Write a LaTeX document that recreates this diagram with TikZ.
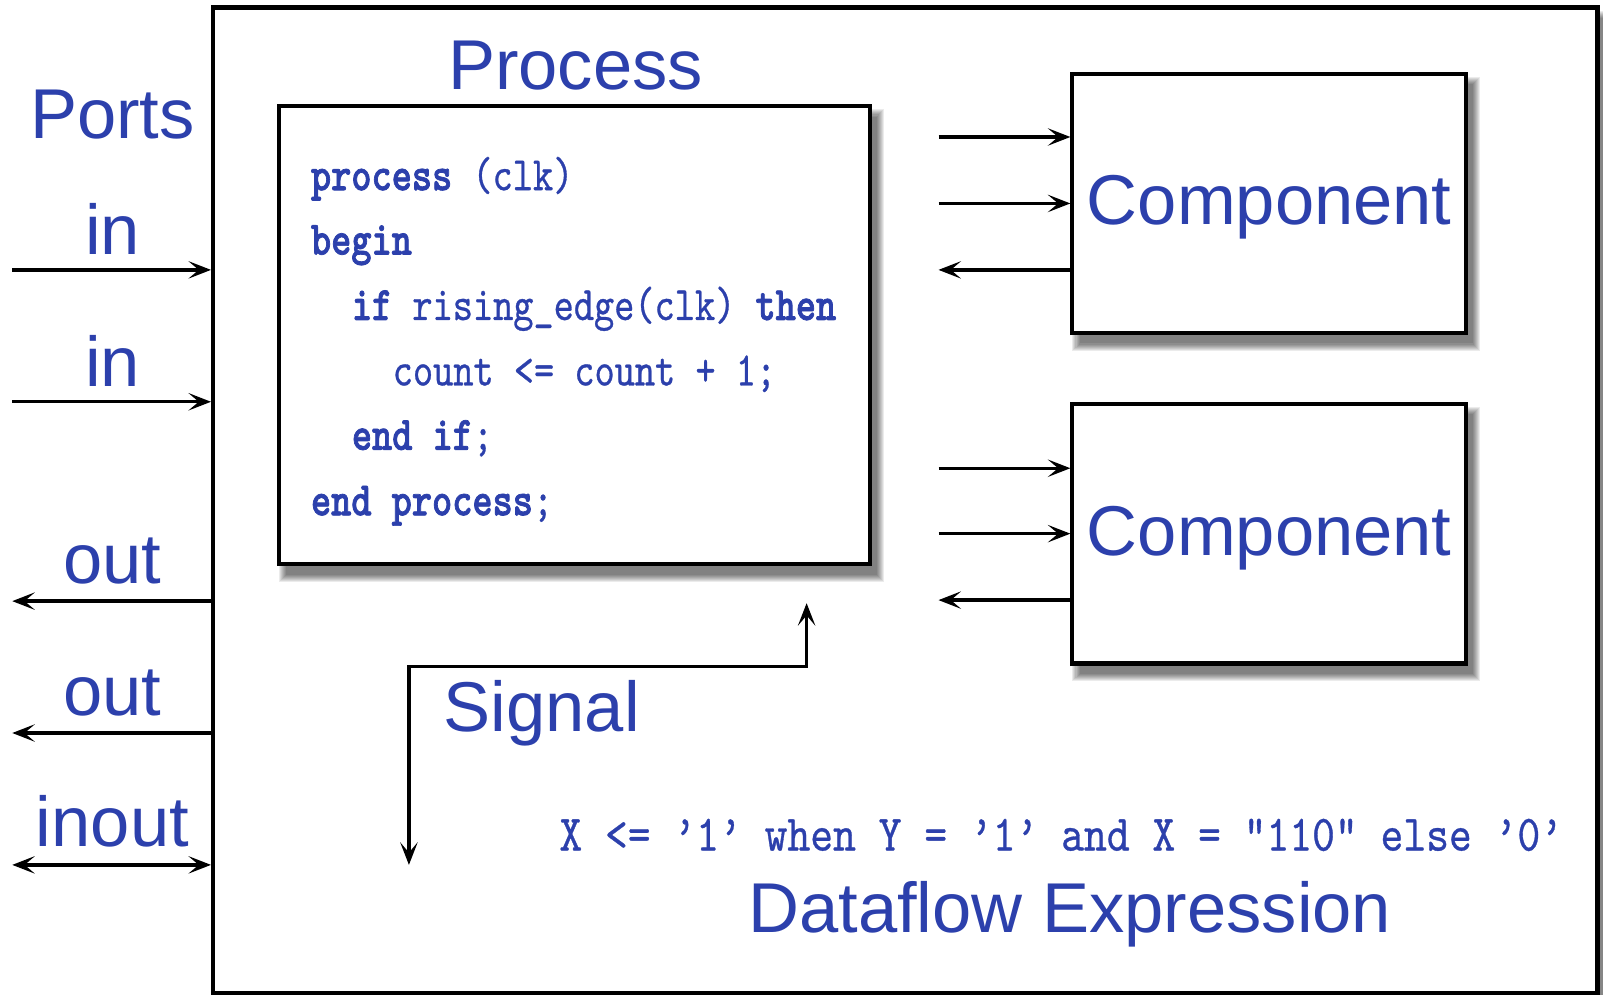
\documentclass[tikz,border=0pt]{standalone}
\usepackage{fontspec}
\usetikzlibrary{arrows.meta}
\newfontfamily\labfnt{Liberation Sans}
\newfontfamily\codefnt{lmmono10-regular.otf}[BoldFont=lmmonolt10-bold.otf, FakeStretch=0.8, UprightFeatures={FakeBold=0.6}, BoldFeatures={FakeBold=1.5}]
\newfontfamily\flowfnt{lmmono10-regular.otf}[FakeStretch=0.85, FakeBold=0.6]
\definecolor{vb}{RGB}{44,64,172}
\newcommand\softshadow[4]{%
  \foreach \s in {0,...,7}{\fill[black,opacity=0.08] ({#1+7-\s},{#2+10-\s}) rectangle ({#3+7+\s},{#4+10+\s});}}
\begin{document}
\begin{tikzpicture}[x=1pt,y=-1pt,
  box/.style={draw=black, line width=4pt, fill=white, inner sep=0pt, outer sep=0pt},
  lbl/.style={text=vb, font=\labfnt\fontsize{69}{80}\selectfont, anchor=base, inner sep=0pt},
  codeline/.style={text=vb, font=\codefnt\fontsize{47}{56}\selectfont, anchor=base west, inner sep=0pt},
  tip/.tip={Stealth[length=22pt,width=17pt,inset=10pt]},
  sig/.style={line width=3.2pt, -tip},
  dsig/.style={line width=3.2pt, tip-tip}]
\useasboundingbox (0,0) rectangle (1568,973);
\clip (0,0) rectangle (1568,973);

% outer entity box
\softshadow{208.4}{7.3}{1562.6}{971.3}
\node[box, minimum width=1354.2pt, minimum height=964pt] (outer) at (885.5,489.3) {};

% process box
\softshadow{273}{104}{851}{552}
\node[box, minimum width=578pt, minimum height=448pt] (proc) at (562,328) {};

% component boxes
\softshadow{1049}{72}{1434}{326}
\node[box, minimum width=385pt, minimum height=254pt] (comp1) at (1241.5,199) {};
\softshadow{1049}{395}{1434}{649}
\node[box, minimum width=385pt, minimum height=254pt] (comp2) at (1241.5,522) {};

% labels
\node[lbl] (tproc) at (563,88) {Process};
\node[lbl] (tports) at (110,135) {Ports};
\node[lbl] (tin1) at (110,249) {in};
\node[lbl] (tin2) at (110,378) {in};
\node[lbl] (tout1) at (110,571) {out};
\node[lbl] (tout2) at (110,700) {out};
\node[lbl] (tinout) at (110,828) {inout};
\node[lbl] (tcomp1) at (1241.5,220) {Component};
\node[lbl] (tcomp2) at (1241.5,543) {Component};
\node[lbl] (tsig) at (530,716) {Signal};
\node[lbl] (tflow) at (1046.5,912) {Dataflow Expression};

% process code
\node[codeline] (c1) at (304,186) {{\bfseries process} (clk)};
\node[codeline] (c2) at (304,249) {{\bfseries begin}};
\node[codeline] (c3) at (344,313) {{\bfseries if} rising\_edge(clk) {\bfseries then}};
\node[codeline] (c4) at (384,377) {count <= count + 1;};
\node[codeline] (c5) at (344,440) {{\bfseries end if};};
\node[codeline] (c6) at (304,504) {{\bfseries end process};};

% dataflow expression
\node[text=vb, font=\flowfnt\fontsize{50}{60}\selectfont, anchor=base west, inner sep=0pt] (flow) at (547,832) {X <= ’1’ when Y = ’1’ and X = "110" else ’0’};

% ports
\coordinate (pin1) at (12,264);
\coordinate (pin2) at (12,393);
\coordinate (pout1) at (12,588);
\coordinate (pout2) at (12,717);
\coordinate (pio) at (12,846);
\draw[sig] (pin1) -- ([xshift=-2pt]pin1 -| outer.west);
\draw[sig] (pin2) -- ([xshift=-2pt]pin2 -| outer.west);
\draw[sig] (pout1 -| outer.west) -- (pout1);
\draw[sig] (pout2 -| outer.west) -- (pout2);
\draw[dsig] (pio) -- ([xshift=-2pt]pio -| outer.west);

% component ports
\coordinate (a1) at (918,134);
\coordinate (a2) at (918,199);
\coordinate (a3) at (918,264);
\coordinate (b1) at (918,458);
\coordinate (b2) at (918,522);
\coordinate (b3) at (918,587);
\draw[sig] (a1) -- ([xshift=-2pt]a1 -| comp1.west);
\draw[sig] (a2) -- ([xshift=-2pt]a2 -| comp1.west);
\draw[sig] (a3 -| comp1.west) -- (a3);
\draw[sig] (b1) -- ([xshift=-2pt]b1 -| comp2.west);
\draw[sig] (b2) -- ([xshift=-2pt]b2 -| comp2.west);
\draw[sig] (b3 -| comp2.west) -- (b3);

% signal
\coordinate (s1) at (400,846);
\coordinate (s2) at (789,590);
\coordinate (sy) at (0,652);
\draw[dsig] (s1) -- (s1 |- sy) -- (s2 |- sy) -- (s2);
\end{tikzpicture}
\end{document}
